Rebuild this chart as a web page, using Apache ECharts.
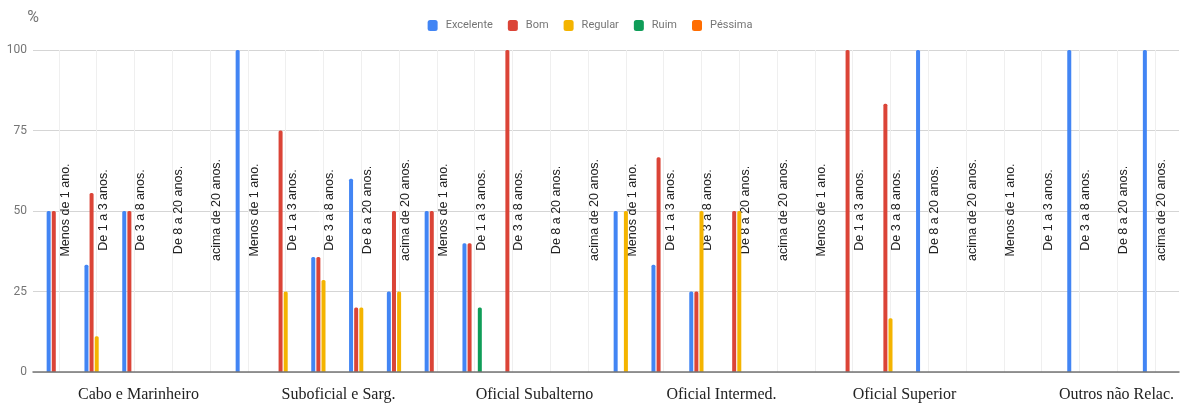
<!DOCTYPE html>
<html>
<head>
<meta charset="utf-8">
<title>Avaliação por posto e tempo de serviço</title>
<script src="https://cdn.jsdelivr.net/npm/echarts@6/dist/echarts.min.js"></script>
<style>
  html, body { margin: 0; padding: 0; background: #fff; }
  #chart { width: 1180px; height: 409px; }
</style>
</head>
<body>
<div id="chart"></div>
<script>
// Service-time bands, repeated inside each rank group
const periods = ['Menos de 1 ano.', 'De 1 a 3 anos.', 'De 3 a 8 anos.', 'De 8 a 20 anos.', 'acima de 20 anos.'];
// Rank groups
const groups = ['Cabo e Marinheiro', 'Suboficial e Sarg.', 'Oficial Subalterno', 'Oficial Intermed.', 'Oficial Superior', 'Outros não Relac.'];
// Flat category list: one entry per (group, period)
const categories = [];
groups.forEach(function () { periods.forEach(function (p) { categories.push(p); }); });

const seriesNames = ['Excelente', 'Bom', 'Regular', 'Ruim', 'Péssima'];

// Percentages, 30 values each (6 groups x 5 periods)
const excelente = [
  50, 33.3, 50, 0, 0,
  100, 0, 35.7, 60, 25,
  50, 40, 0, 0, 0,
  50, 33.3, 25, 0, 0,
  0, 0, 0, 100, 0,
  0, 0, 100, 0, 100
];
const bom = [
  50, 55.6, 50, 0, 0,
  0, 75, 35.7, 20, 50,
  50, 40, 100, 0, 0,
  0, 66.7, 25, 50, 0,
  0, 100, 83.3, 0, 0,
  0, 0, 0, 0, 0
];
const regular = [
  0, 11.1, 0, 0, 0,
  0, 25, 28.6, 20, 25,
  0, 0, 0, 0, 0,
  50, 0, 50, 50, 0,
  0, 0, 16.7, 0, 0,
  0, 0, 0, 0, 0
];
const ruim = [
  0, 0, 0, 0, 0,
  0, 0, 0, 0, 0,
  0, 20, 0, 0, 0,
  0, 0, 0, 0, 0,
  0, 0, 0, 0, 0,
  0, 0, 0, 0, 0
];
const pessima = [
  0, 0, 0, 0, 0,
  0, 0, 0, 0, 0,
  0, 0, 0, 0, 0,
  0, 0, 0, 0, 0,
  0, 0, 0, 0, 0,
  0, 0, 0, 0, 0
];
const seriesValues = [excelente, bom, regular, ruim, pessima];
const yTicks = [0, 25, 50, 75, 100];

const colors = ['#4285F4', '#DB4437', '#F4B400', '#0F9D58', '#FF6D01'];

const chart = echarts.init(document.getElementById('chart'), null, { renderer: 'canvas' });

// Small horizontal nudges for the group captions under the axis
const groupShift = [4, 15, 22, 20, 14, 37];
const groupRich = {};
groupShift.forEach(function (s, i) {
  groupRich['g' + i] = {
    fontFamily: 'Liberation Serif',
    fontSize: 16,
    color: '#222',
    padding: [0, 0, 0, 2 * s]
  };
});

const option = {
  animation: false,
  color: colors,
  legend: {
    top: 15,
    left: 'center',
    itemWidth: 10,
    itemHeight: 11,
    itemGap: 15,
    icon: 'roundRect',
    textStyle: { fontFamily: 'Roboto', fontSize: 11, color: '#757575', padding: [0, 0, 0, 3] },
    data: seriesNames
  },
  grid: [
    // bars and category labels
    { left: 40, right: 6, top: 50, bottom: 37 },
    // value scale, horizontal gridlines and baseline across the full plot width
    { left: 33, right: 1, top: 50, bottom: 37 }
  ],
  xAxis: [
    {
      type: 'category',
      gridIndex: 0,
      data: categories,
      axisLine: { show: false },
      axisTick: { show: false },
      splitLine: { show: true, alignWithLabel: true, interval: 0, lineStyle: { color: '#efefef', width: 1 } },
      axisLabel: {
        inside: true,
        rotate: 90,
        interval: 0,
        margin: 162,
        align: 'center',
        verticalAlign: 'top',
        hideOverlap: false,
        fontFamily: 'Liberation Sans',
        fontSize: 12.5,
        color: '#222'
      },
      z: 3
    },
    {
      type: 'category',
      gridIndex: 0,
      position: 'bottom',
      data: groups,
      axisLine: { show: false },
      axisTick: { show: false },
      splitLine: { show: false },
      axisLabel: {
        interval: 0,
        margin: 15,
        formatter: function (v, i) { return '{g' + i + '|' + v + '}'; },
        rich: groupRich
      }
    },
    {
      type: 'value',
      gridIndex: 1,
      min: 0,
      max: 1,
      axisLine: { show: true, lineStyle: { color: '#757575', width: 1.5 } },
      axisTick: { show: false },
      axisLabel: { show: false },
      splitLine: { show: false },
      z: 5
    }
  ],
  yAxis: [
    {
      type: 'value',
      gridIndex: 0,
      min: 0,
      max: 100,
      interval: 25,
      show: false
    },
    {
      type: 'value',
      gridIndex: 1,
      min: 0,
      max: 100,
      interval: 25,
      name: '%',
      nameLocation: 'end',
      nameGap: 32,
      nameTextStyle: { fontFamily: 'Roboto', fontSize: 16, color: '#757575', align: 'center', verticalAlign: 'middle' },
      axisLine: { show: false },
      axisTick: { show: false },
      axisLabel: {
        margin: 6,
        fontFamily: 'Roboto',
        fontSize: 12,
        color: '#757575',
        formatter: function (v) { return yTicks.indexOf(v) >= 0 ? String(v) : ''; }
      },
      splitLine: { show: true, lineStyle: { color: '#d5d5d5', width: 1 } }
    }
  ],
  series: seriesNames.map(function (name, i) {
    return {
      name: name,
      type: 'bar',
      xAxisIndex: 0,
      yAxisIndex: 0,
      barWidth: 4,
      barGap: '28%',
      itemStyle: { color: colors[i], borderRadius: [1.5, 1.5, 0, 0] },
      data: seriesValues[i],
      z: 4
    };
  })
};

chart.setOption(option);
</script>
</body>
</html>
